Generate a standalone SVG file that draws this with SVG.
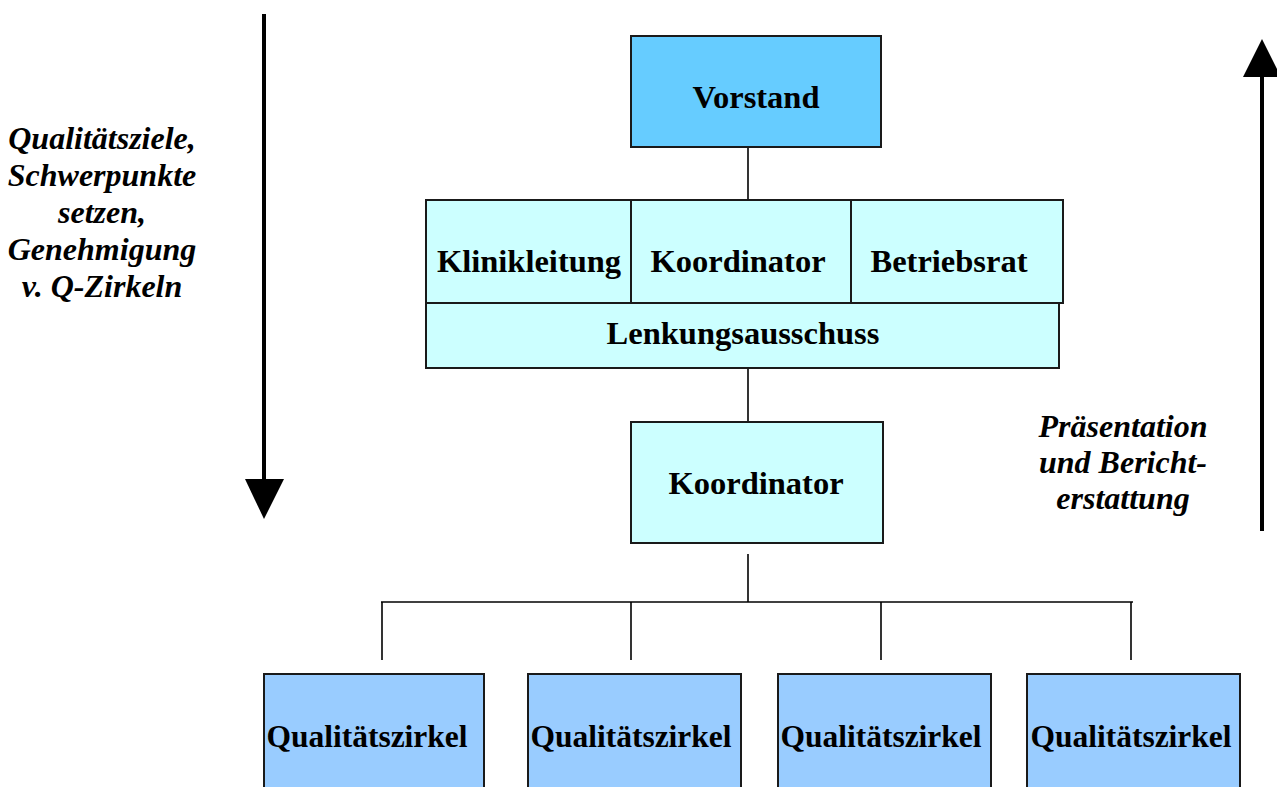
<svg xmlns="http://www.w3.org/2000/svg" width="1277" height="787" viewBox="0 0 1277 787">
<style>
.box{stroke:#1a1a1a;stroke-width:2}
.v{fill:#66CCFF}
.c{fill:#CCFFFF}
.q{fill:#99CCFF}
.t{font-family:"Liberation Serif","Times New Roman",serif;font-weight:bold;font-size:32.5px;fill:#000;text-anchor:middle}
.qt{font-size:31.5px}
.i{font-family:"Liberation Serif","Times New Roman",serif;font-weight:bold;font-style:italic;font-size:32px;fill:#000;text-anchor:middle}
.ln{stroke:#000;stroke-width:1.6;fill:none}
.ar{stroke:#000;stroke-width:4;fill:none}
</style>
<rect width="1277" height="787" fill="#fff"/>
<g id="connectors">
<line class="ln" x1="748" y1="147" x2="748" y2="201"/>
<line class="ln" x1="748" y1="368" x2="748" y2="426"/>
<line class="ln" x1="748" y1="554" x2="748" y2="602"/>
<line class="ln" x1="381" y1="602" x2="1133" y2="602"/>
<line class="ln" x1="382" y1="602" x2="382" y2="660"/>
<line class="ln" x1="631" y1="602" x2="631" y2="660"/>
<line class="ln" x1="881" y1="602" x2="881" y2="660"/>
<line class="ln" x1="1131" y1="602" x2="1131" y2="660"/>
</g>
<g id="arrow-down">
<line class="ar" x1="264" y1="14" x2="264" y2="482"/>
<polygon points="245,479 284,479 264,519" fill="#000"/>
</g>
<g id="arrow-up">
<line class="ar" x1="1262" y1="531" x2="1262" y2="74"/>
<polygon points="1243,77 1281,77 1262,39" fill="#000"/>
</g>
<g id="label-left">
<text class="i" x="102" y="149">Qualitätsziele,</text>
<text class="i" x="102" y="186">Schwerpunkte</text>
<text class="i" x="102" y="223">setzen,</text>
<text class="i" x="102" y="260">Genehmigung</text>
<text class="i" x="102" y="297">v. Q-Zirkeln</text>
</g>
<g id="label-right">
<text class="i" x="1123" y="437">Präsentation</text>
<text class="i" x="1123" y="473">und Bericht-</text>
<text class="i" x="1123" y="509">erstattung</text>
</g>
<g id="vorstand">
<rect class="box v" x="631" y="36" width="250" height="111"/>
<text class="t" x="756" y="108">Vorstand</text>
</g>
<g id="lenkungsausschuss">
<rect class="box c" x="426" y="303" width="633" height="65"/>
<text class="t" x="743" y="344">Lenkungsausschuss</text>
</g>
<g id="klinikleitung">
<rect class="box c" x="426" y="200" width="205" height="103"/>
<text class="t" x="529" y="272">Klinikleitung</text>
</g>
<g id="koordinator-top">
<rect class="box c" x="631" y="200" width="220" height="103"/>
<text class="t" x="738" y="272">Koordinator</text>
</g>
<g id="betriebsrat">
<rect class="box c" x="851" y="200" width="212" height="103"/>
<text class="t" x="949" y="272">Betriebsrat</text>
</g>
<g id="koordinator">
<rect class="box c" x="631" y="422" width="252" height="121"/>
<text class="t" x="756" y="494">Koordinator</text>
</g>
<g id="qz1">
<rect class="box q" x="264" y="674" width="220" height="130"/>
<text class="t qt" x="367" y="747">Qualitätszirkel</text>
</g>
<g id="qz2">
<rect class="box q" x="528" y="674" width="213" height="130"/>
<text class="t qt" x="631" y="747">Qualitätszirkel</text>
</g>
<g id="qz3">
<rect class="box q" x="778" y="674" width="213" height="130"/>
<text class="t qt" x="881" y="747">Qualitätszirkel</text>
</g>
<g id="qz4">
<rect class="box q" x="1027" y="674" width="213" height="130"/>
<text class="t qt" x="1131" y="747">Qualitätszirkel</text>
</g>
</svg>
